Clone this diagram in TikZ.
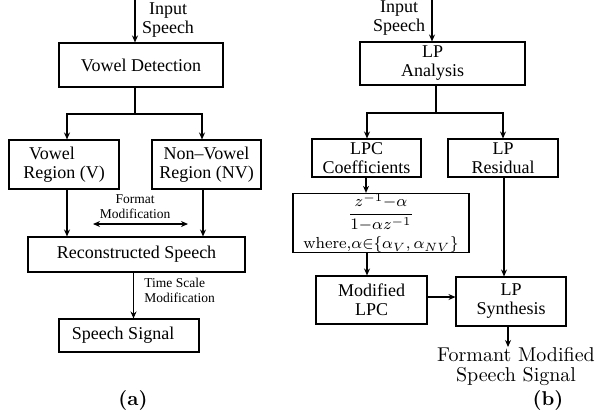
\documentclass[tikz,border=0pt]{standalone}
\usepackage{amsmath}
\usepackage{fontspec}
\newfontfamily\tms[Ligatures=TeX]{Liberation Serif}
\usetikzlibrary{arrows.meta}
\tikzset{
  box/.style={draw, line width=0.55pt, inner sep=0pt, align=center, font=\tms\fontsize{9}{9.5}\selectfont},
  arr/.style={line width=0.55pt, -{Stealth[length=3.5pt,width=3pt]}},
  ln/.style={line width=0.55pt},
  lbl/.style={inner sep=0pt, align=center, font=\tms\fontsize{9}{9.5}\selectfont},
  small/.style={inner sep=0pt, font=\tms\fontsize{6.75}{7.4}\selectfont},
  captxt/.style={inner sep=0pt, font=\fontsize{10}{12}\selectfont\bfseries}
}
\begin{document}
\begin{tikzpicture}[x=0.5pt,y=-0.5pt]
\useasboundingbox (0,0) rectangle (597,419);
% ---------- (a) ----------
\node[box, minimum width=82pt, minimum height=22pt] (vd) at (141,65) {Vowel Detection};
\node[box, minimum width=55pt, minimum height=24.5pt] (vr) at (64,164.5) {Vowel\hspace*{12pt}\\Region (V)};
\node[box, minimum width=54.5pt, minimum height=24.5pt] (nv) at (206.5,164.5) {Non\textendash Vowel\\Region (NV)};
\node[box, minimum width=108.5pt, minimum height=17.5pt] (rs) at (136.5,254.5) {Reconstructed Speech};
\node[box, minimum width=70pt, minimum height=16.5pt] (ss) at (129,335.5) {Speech Signal\hspace*{6pt}};
\node[lbl] (ina) at (168,20) {Input\\Speech};
\coordinate (sa) at (135,0);
\draw[arr] (sa) -- (sa |- vd.north);
\coordinate (ja) at (135,114);
\coordinate (jal) at (67,114);
\coordinate (jar) at (202,114);
\draw[ln] (ja |- vd.south) -- (ja);
\draw[arr] (ja) -- (jal) -- (jal |- vr.north);
\draw[arr] (ja) -- (jar) -- (jar |- nv.north);
\coordinate (vx) at (67,0);
\coordinate (nx) at (203,0);
\draw[arr] (vx |- vr.south) -- (vx |- rs.north);
\draw[arr] (nx |- nv.south) -- (nx |- rs.north);
\node[small, align=center] (fm) at (135,207) {Format\\Modification};
\coordinate (fml) at (93,224);
\coordinate (fmr) at (188,224);
\draw[ln, {Stealth[length=3.5pt,width=3pt]}-{Stealth[length=3.5pt,width=3pt]}] (fml) -- (fmr);
\coordinate (rx) at (133.5,0);
\draw[arr] (rx |- rs.south) -- (rx |- ss.north);
\node[small, align=left, anchor=west] (ts) at (144,290.5) {Time Scale\\Modification};
\node[captxt] (ca) at (133,400) {(a)};
% ---------- (b) ----------
\node[box, minimum width=82.5pt, minimum height=21.5pt] (lpa) at (442.5,63.5) {LP\hspace*{10pt}\\Analysis\hspace*{10pt}};
\node[box, minimum width=54.5pt, minimum height=19pt] (lpc) at (366.5,158) {LPC\\Coefficients};
\node[box, minimum width=55pt, minimum height=19pt] (lpr) at (503,158) {LP\\Residual};
\node[box, minimum width=88pt, minimum height=29pt, font=\fontsize{8}{9}\selectfont] (fb) at (381,223)
  {$\dfrac{z^{-1}{-}\alpha}{1{-}\alpha z^{-1}}$\\[1.5pt] where,$\alpha{\in}\{\alpha_V,\alpha_{NV}\}$};
\node[box, minimum width=55.5pt, minimum height=24pt] (ml) at (371.5,300) {Modified\\LPC};
\node[box, minimum width=55pt, minimum height=24.5pt] (lps) at (511,301.5) {LP\\Synthesis};
\node[lbl] (inb) at (399,18.5) {Input\\Speech};
\coordinate (sb) at (432,0);
\draw[arr] (sb) -- (sb |- lpa.north);
\coordinate (jb) at (436,113);
\coordinate (jbl) at (367,113);
\coordinate (jbr) at (503,113);
\draw[ln] (jb |- lpa.south) -- (jb);
\draw[arr] (jb) -- (jbl) -- (jbl |- lpc.north);
\draw[arr] (jb) -- (jbr) -- (jbr |- lpr.north);
\coordinate (cx) at (366,0);
\draw[arr] (cx |- lpc.south) -- (cx |- fb.north);
\coordinate (mx) at (367,0);
\draw[arr] (mx |- fb.south) -- (mx |- ml.north);
\coordinate (rrx) at (504,0);
\draw[arr] (rrx |- lpr.south) -- (rrx |- lps.north);
\coordinate (hy) at (0,297);
\draw[arr] (ml.east |- hy) -- (lps.west |- hy);
\node[inner sep=0pt, align=center, font=\fontsize{10}{10}\selectfont] (out) at (516,366) {Formant Modified\\Speech Signal};
\coordinate (ox) at (508,0);
\coordinate (oe) at (508,347);
\draw[arr] (ox |- lps.south) -- (oe);
\node[captxt] (cb) at (548,400) {(b)};
\end{tikzpicture}
\end{document}
